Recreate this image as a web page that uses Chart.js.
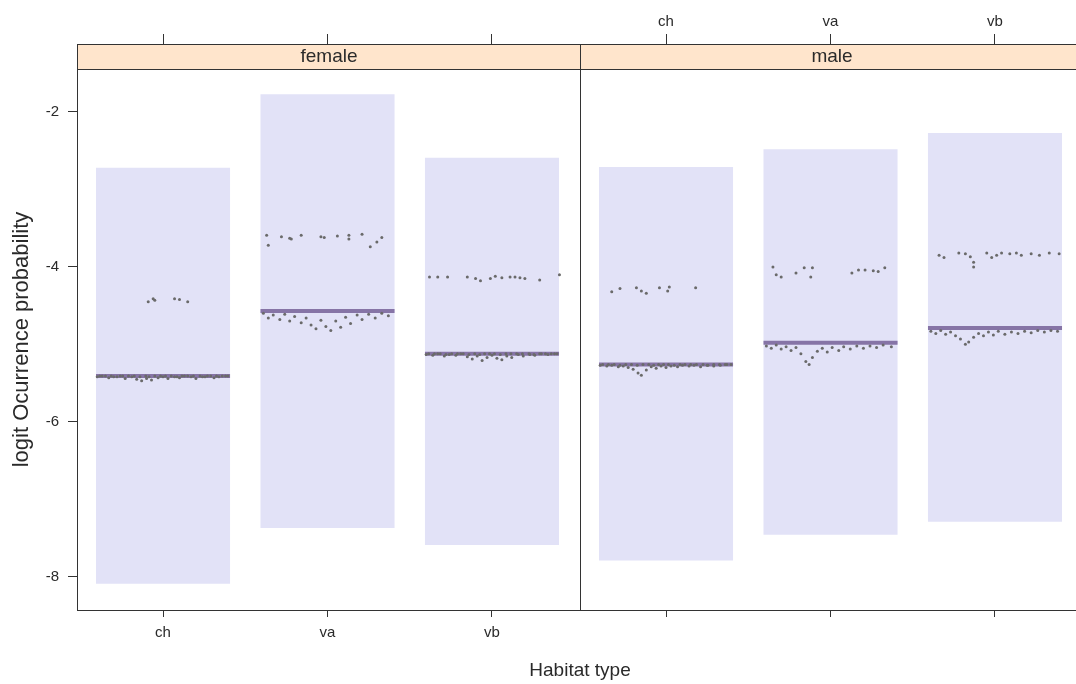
<!DOCTYPE html>
<html><head><meta charset="utf-8">
<script src="https://cdn.jsdelivr.net/npm/chart.js@4/dist/chart.umd.min.js"></script>
<style>
html,body{margin:0;padding:0;background:#fff;overflow:hidden;width:1076px;height:684px;}
#wrap{position:absolute;left:0;top:0;width:1100px;height:684px;}
</style></head><body>
<div id="wrap"><canvas id="c" width="1100" height="684"></canvas></div>
<script>
// ---------- data ----------
const habitats = ['ch', 'va', 'vb'];
const panels = ['female', 'male'];
const yTicks = [-8, -6, -4, -2];

const femaleLow  = [-8.09, -7.37, -7.59];
const femaleHigh = [-2.72, -1.77, -2.59];
const femaleMean = [-5.41, -4.57, -5.12];
const maleLow    = [-7.79, -7.46, -7.29];
const maleHigh   = [-2.71, -2.48, -2.27];
const maleMean   = [-5.26, -4.98, -4.79];

// individual points: [position along habitat axis, logit value]
const dotsFemaleCh = [
  [0.91,-4.45],[0.94,-4.41],[0.95,-4.43],[1.07,-4.41],[1.10,-4.42],[1.15,-4.45],
  [0.60,-5.42],[0.63,-5.41],[0.67,-5.43],[0.70,-5.42],[0.74,-5.41],[0.77,-5.44],
  [0.81,-5.42],[0.84,-5.45],[0.87,-5.47],[0.90,-5.44],[0.93,-5.46],[0.97,-5.43],
  [1.00,-5.42],[1.03,-5.44],[1.07,-5.42],[1.10,-5.43],[1.13,-5.41],[1.17,-5.42],
  [1.20,-5.44],[1.24,-5.42],[1.27,-5.41],[1.31,-5.43],[1.34,-5.42],[1.38,-5.41],
  [0.615,-5.41],[0.65,-5.41],[0.685,-5.41],[0.72,-5.42],[0.755,-5.41],[0.79,-5.41],
  [0.825,-5.41],[0.86,-5.42],[0.895,-5.41],[0.915,-5.42],[0.95,-5.41],[0.985,-5.41],
  [1.015,-5.41],[1.05,-5.41],[1.085,-5.42],[1.115,-5.41],[1.15,-5.41],[1.185,-5.41],
  [1.225,-5.41],[1.255,-5.42],[1.29,-5.41],[1.325,-5.41],[1.36,-5.41],[1.395,-5.41]
];
const dotsFemaleVa = [
  [1.63,-3.59],[1.64,-3.72],[1.72,-3.61],[1.77,-3.63],[1.78,-3.64],[1.84,-3.59],
  [1.96,-3.61],[1.98,-3.62],[2.06,-3.60],[2.13,-3.59],[2.13,-3.64],[2.21,-3.58],
  [2.26,-3.74],[2.30,-3.68],[2.33,-3.62],
  [1.61,-4.60],[1.64,-4.66],[1.67,-4.62],[1.71,-4.68],[1.74,-4.61],[1.77,-4.70],
  [1.80,-4.64],[1.84,-4.72],[1.87,-4.66],[1.90,-4.75],[1.93,-4.80],[1.96,-4.69],
  [1.99,-4.77],[2.02,-4.82],[2.05,-4.70],[2.08,-4.78],[2.11,-4.65],[2.14,-4.73],
  [2.18,-4.62],[2.21,-4.68],[2.25,-4.61],[2.29,-4.66],[2.33,-4.60],[2.37,-4.63]
];
const dotsFemaleVb = [
  [2.62,-4.13],[2.67,-4.13],[2.73,-4.13],[2.85,-4.13],[2.90,-4.15],[2.93,-4.18],
  [2.99,-4.15],[3.02,-4.12],[3.06,-4.14],[3.11,-4.13],[3.14,-4.13],[3.17,-4.14],
  [3.20,-4.15],[3.29,-4.17],[3.41,-4.10],
  [2.60,-5.13],[2.64,-5.14],[2.67,-5.12],[2.71,-5.15],[2.74,-5.13],[2.78,-5.14],
  [2.81,-5.12],[2.85,-5.16],[2.88,-5.19],[2.91,-5.15],[2.94,-5.21],[2.97,-5.17],
  [3.00,-5.14],[3.03,-5.18],[3.06,-5.20],[3.09,-5.15],[3.12,-5.17],[3.16,-5.13],
  [3.19,-5.15],[3.23,-5.13],[3.26,-5.14],[3.30,-5.12],[3.34,-5.13],[3.38,-5.12],
  [2.615,-5.12],[2.65,-5.12],[2.685,-5.12],[2.72,-5.13],[2.755,-5.12],[2.79,-5.12],
  [2.825,-5.12],[2.86,-5.13],[2.895,-5.12],[2.925,-5.13],[2.955,-5.12],[2.985,-5.12],
  [3.015,-5.12],[3.05,-5.13],[3.085,-5.12],[3.115,-5.12],[3.15,-5.12],[3.185,-5.12],
  [3.225,-5.12],[3.255,-5.13],[3.29,-5.12],[3.325,-5.12],[3.36,-5.12],[3.395,-5.12]
];
const dotsMaleCh = [
  [0.67,-4.32],[0.72,-4.28],[0.82,-4.27],[0.85,-4.31],[0.88,-4.34],[0.96,-4.27],
  [1.01,-4.31],[1.02,-4.26],[1.18,-4.27],
  [0.60,-5.27],[0.64,-5.28],[0.67,-5.27],[0.71,-5.29],[0.74,-5.28],[0.77,-5.30],
  [0.80,-5.32],[0.83,-5.37],[0.85,-5.40],[0.88,-5.33],[0.91,-5.29],[0.94,-5.31],
  [0.97,-5.28],[1.00,-5.30],[1.03,-5.28],[1.07,-5.29],[1.10,-5.27],[1.14,-5.28],
  [1.17,-5.27],[1.21,-5.29],[1.25,-5.27],[1.29,-5.28],[1.33,-5.27],[1.37,-5.26],
  [0.615,-5.26],[0.65,-5.26],[0.685,-5.26],[0.72,-5.27],[0.755,-5.26],[0.79,-5.26],
  [0.825,-5.27],[0.86,-5.26],[0.895,-5.26],[0.925,-5.27],[0.955,-5.26],[0.985,-5.26],
  [1.015,-5.26],[1.05,-5.27],[1.085,-5.26],[1.115,-5.26],[1.15,-5.26],[1.185,-5.26],
  [1.225,-5.26],[1.255,-5.27],[1.29,-5.26],[1.325,-5.26],[1.36,-5.26],[1.395,-5.26]
];
const dotsMaleVa = [
  [1.65,-4.00],[1.67,-4.10],[1.70,-4.13],[1.79,-4.08],[1.84,-4.01],[1.89,-4.01],
  [1.88,-4.13],[2.13,-4.08],[2.17,-4.04],[2.21,-4.04],[2.26,-4.05],[2.29,-4.06],
  [2.33,-4.01],
  [1.61,-5.02],[1.64,-5.05],[1.67,-5.01],[1.70,-5.06],[1.73,-5.03],[1.76,-5.08],
  [1.79,-5.04],[1.82,-5.12],[1.85,-5.22],[1.87,-5.26],[1.89,-5.17],[1.92,-5.09],
  [1.95,-5.05],[1.98,-5.10],[2.01,-5.04],[2.05,-5.08],[2.08,-5.03],[2.12,-5.06],
  [2.16,-5.02],[2.20,-5.05],[2.24,-5.02],[2.28,-5.04],[2.32,-5.01],[2.37,-5.03]
];
const dotsMaleVb = [
  [2.66,-3.85],[2.69,-3.88],[2.78,-3.82],[2.82,-3.83],[2.85,-3.87],[2.87,-3.94],
  [2.87,-4.00],[2.95,-3.82],[2.98,-3.88],[3.01,-3.85],[3.04,-3.82],[3.09,-3.83],
  [3.13,-3.82],[3.16,-3.85],[3.22,-3.83],[3.27,-3.85],[3.33,-3.82],[3.39,-3.83],
  [2.61,-4.83],[2.64,-4.86],[2.67,-4.82],[2.70,-4.87],[2.73,-4.84],[2.76,-4.89],
  [2.79,-4.93],[2.82,-5.00],[2.84,-4.97],[2.87,-4.91],[2.90,-4.86],[2.93,-4.89],
  [2.96,-4.84],[2.99,-4.88],[3.02,-4.83],[3.06,-4.87],[3.10,-4.84],[3.14,-4.86],
  [3.18,-4.83],[3.22,-4.85],[3.26,-4.82],[3.30,-4.84],[3.34,-4.82],[3.38,-4.83]
];

// ---------- layout constants ----------
const X_MIN = 0.477, PANEL_SPAN = 3.058, HALF_BAR = 0.4075;
const Y_MIN = -8.43, Y_MAX = -1.445;
const FONT = "'Liberation Sans', Arial, sans-serif";
const TXT = '#2a2a2a';

const groups = [
  {panel: 0, low: femaleLow, high: femaleHigh, mean: femaleMean, dots: [dotsFemaleCh, dotsFemaleVa, dotsFemaleVb]},
  {panel: 1, low: maleLow, high: maleHigh, mean: maleMean, dots: [dotsMaleCh, dotsMaleVa, dotsMaleVb]}
];
const barData = [], meanData = [], dotData = [];
groups.forEach(g => habitats.forEach((h, i) => {
  const cx = i + 1 + g.panel * PANEL_SPAN;
  barData.push({x: cx, y: [g.low[i], g.high[i]]});
  meanData.push({x: cx - HALF_BAR, y: g.mean[i]}, {x: cx + HALF_BAR, y: g.mean[i]}, {x: cx + 0.5, y: null});
  g.dots[i].forEach(([x, y]) => dotData.push({x: x + g.panel * PANEL_SPAN, y}));
}));
const xTickVals = [];
panels.forEach((p, pi) => habitats.forEach((h, i) => xTickVals.push(i + 1 + pi * PANEL_SPAN)));

const stripPlugin = {
  id: 'strips',
  afterDraw(chart) {
    const {ctx, chartArea: {top, bottom}} = chart;
    const xs = chart.scales.x;
    ctx.save();
    panels.forEach((name, p) => {
      const x0 = Math.round(xs.getPixelForValue(X_MIN + p * PANEL_SPAN)) + 0.5;
      const x1 = Math.round(xs.getPixelForValue(X_MIN + (p + 1) * PANEL_SPAN)) + 0.5;
      ctx.fillStyle = '#ffe5cc';
      ctx.fillRect(x0, top - 25, x1 - x0, 25);
      ctx.strokeStyle = '#333';
      ctx.lineWidth = 1;
      ctx.strokeRect(x0, top - 25 + 0.5, x1 - x0, 25);
      ctx.strokeRect(x0, top + 0.5, x1 - x0, bottom - top);
      ctx.fillStyle = TXT;
      ctx.font = "19px " + FONT;
      ctx.textAlign = 'center';
      ctx.textBaseline = 'middle';
      ctx.fillText(name, (x0 + x1) / 2, top - 12);
    });
    ctx.restore();
  }
};

const setXTicks = s => { s.ticks = xTickVals.map(v => ({value: v})); };

new Chart(document.getElementById('c'), {
  type: 'bar',
  data: {
    datasets: [
      {type: 'scatter', data: dotData, backgroundColor: '#6a6a6a', borderWidth: 0,
       pointRadius: 1.5, pointStyle: 'circle', order: 1},
      {type: 'line', data: meanData, borderColor: '#8674a6', borderWidth: 4,
       pointRadius: 0, spanGaps: false, fill: false, order: 2},
      {type: 'bar', data: barData, backgroundColor: '#e2e2f7', borderWidth: 0,
       barPercentage: 0.815, categoryPercentage: 1, order: 3}
    ]
  },
  options: {
    responsive: false,
    animation: false,
    events: [],
    layout: {padding: {left: 0, right: 17, top: 0, bottom: 0}},
    plugins: {legend: {display: false}, tooltip: {enabled: false}},
    scales: {
      x: {
        type: 'linear', position: 'bottom', min: X_MIN, max: X_MIN + 2 * PANEL_SPAN,
        offset: false,
        afterBuildTicks: setXTicks,
        afterFit: s => { s.height = 74; },
        grid: {offset: false, drawOnChartArea: false, drawTicks: true, tickLength: 7, color: '#333'},
        border: {display: true, color: '#333', width: 1},
        ticks: {autoSkip: false, maxRotation: 0, minRotation: 0, padding: 7, color: TXT,
                font: {family: FONT, size: 15},
                callback: (v, i) => i < 3 ? habitats[i] : ''},
        title: {display: true, text: 'Habitat type', color: TXT, font: {family: FONT, size: 19},
                padding: {top: 0, bottom: 2}}
      },
      x2: {
        type: 'linear', position: 'top', min: X_MIN, max: X_MIN + 2 * PANEL_SPAN,
        offset: false,
        afterBuildTicks: setXTicks,
        afterFit: s => { s.height = 69; },
        grid: {offset: false, drawOnChartArea: false, drawTicks: true, tickLength: 35, color: '#333'},
        border: {display: false},
        ticks: {autoSkip: false, maxRotation: 0, minRotation: 0, padding: 3, color: TXT,
                font: {family: FONT, size: 15},
                callback: (v, i) => i >= 3 ? habitats[i - 3] : ''}
      },
      y: {
        type: 'linear', position: 'left', min: Y_MIN, max: Y_MAX,
        afterBuildTicks: s => { s.ticks = yTicks.map(v => ({value: v})); },
        afterFit: s => { s.width = 77; },
        grid: {drawOnChartArea: false, drawTicks: true, tickLength: 9, color: '#333'},
        border: {display: true, color: '#333', width: 1},
        ticks: {padding: 9, color: TXT, font: {family: FONT, size: 15}},
        title: {display: true, text: 'logit Ocurrence probability', color: TXT,
                font: {family: FONT, size: 22}, padding: {top: 9, bottom: 0}}
      }
    }
  },
  plugins: [stripPlugin]
});
</script>
</body></html>
